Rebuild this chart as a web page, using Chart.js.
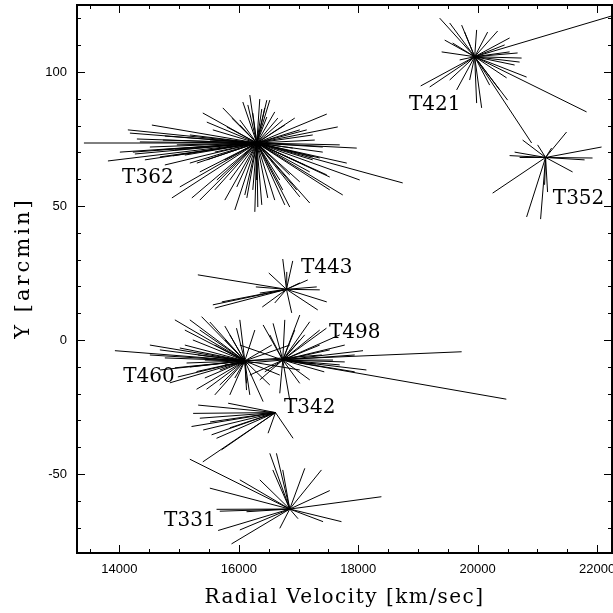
<!DOCTYPE html>
<html>
<head>
<meta charset="utf-8">
<script src="https://cdn.jsdelivr.net/npm/chart.js@4/dist/chart.umd.min.js"></script>
<style>
  html, body { margin: 0; padding: 0; background: #fff; }
  canvas { display: block; }
</style>
</head>
<body>
<canvas id="chart" width="613" height="613"></canvas>
<script>
// axis ticks
const xTicks = [14000, 16000, 18000, 20000, 22000];
const yTicks = [-50, 0, 50, 100];

// cluster centres [velocity, Y]
const t362Center = [16301, 73.5];
const t421Center = [19950, 105.7];
const t352Center = [21138, 68.1];
const t443Center = [16798, 18.9];
const t460Center = [16100, -7.8];
const t498Center = [16736, -7.5];
const t342Center = [16614, -27.1];
const t331Center = [16853, -63.1];

// member galaxies [velocity, Y]
const t362Members = [
  [13406, 73.5], [13808, 66.8], [14176, 77.2], [14544, 80.2], [14293, 75.0],
  [14259, 69.4], [14678, 68.3], [14761, 76.1], [15297, 66.0], [15012, 57.1],
  [14879, 53.0], [15213, 53.0], [15397, 84.7], [15732, 86.6], [16067, 88.8],
  [16151, 87.7], [16351, 89.9], [16385, 86.2], [16602, 85.1], [16653, 82.8],
  [16937, 82.8], [17473, 84.3], [17657, 79.5], [17975, 71.6], [18745, 58.6],
  [17741, 54.1], [17473, 61.6], [17021, 59.0], [16736, 56.0], [16485, 53.0],
  [16134, 53.0], [15849, 59.7], [17238, 67.2], [17406, 70.1], [17808, 66.0],
  [15933, 48.5], [16268, 47.8], [16385, 50.4], [16853, 49.6], [17188, 51.1],
  [14142, 78.4], [14728, 74.6], [14962, 72.8], [14226, 70.1], [14628, 70.9],
  [14895, 68.7], [15565, 78.4], [15799, 79.5], [15464, 81.3], [16017, 82.1],
  [16234, 84.7], [16469, 83.2], [16736, 82.1], [17138, 78.4], [17238, 76.5],
  [17406, 72.0], [16903, 71.6], [17238, 68.3], [17523, 60.8], [17188, 62.7],
  [16234, 56.0], [16301, 59.7], [15966, 57.1], [15632, 59.7], [15464, 67.2],
  [15180, 66.0], [16686, 59.7], [16970, 56.0], [16469, 89.5],
  [14510, 72.0], [14343, 73.9], [14929, 70.9], [15180, 76.5], [15515, 74.6],
  [15096, 69.0], [15598, 70.1], [15766, 67.2], [14008, 70.1], [14427, 67.2],
  [16017, 80.2], [16184, 91.4], [16519, 89.5], [16770, 80.2], [17021, 78.4],
  [17272, 74.6], [17690, 72.8], [17355, 67.9], [17104, 65.3], [16853, 61.6],
  [16602, 52.2], [16318, 49.6], [16100, 54.1], [15766, 52.2], [15598, 56.0],
  [15347, 52.2], [17523, 56.0], [18025, 59.7], [16770, 50.4], [17021, 53.4],
  [15347, 62.7], [14761, 65.3], [15883, 82.8], [16435, 86.6]
];
const t421Members = [
  [22711, 124.0], [21824, 85.1], [20904, 73.5], [19364, 120.1], [19531, 118.3],
  [19732, 117.5], [19782, 114.9], [19983, 115.7], [20167, 114.9], [20335, 115.3],
  [20535, 112.7], [19397, 107.5], [19581, 110.8], [20669, 107.1], [20703, 103.7],
  [20619, 102.6], [20820, 98.1], [20485, 97.8], [19046, 94.8], [19197, 94.4],
  [19531, 97.0], [19648, 93.3], [19983, 88.4], [20067, 86.6], [20368, 93.3],
  [20535, 107.5], [20736, 105.2], [20452, 110.1], [19448, 111.9], [19866, 97.0],
  [20201, 95.1], [19699, 104.5], [20502, 89.5]
];
const t352Members = [
  [20535, 68.8], [20619, 70.1], [21924, 67.9], [22075, 72.0], [21489, 77.6],
  [21590, 62.7], [20251, 54.8], [20820, 45.9], [21054, 45.1], [21171, 55.2],
  [21004, 72.8], [21238, 71.6], [20753, 74.6], [21791, 67.2], [21121, 57.9],
  [20703, 68.1]
];
const t443Members = [
  [15314, 24.3], [15598, 11.9], [15565, 13.1], [15715, 14.2], [16285, 19.8],
  [16502, 25.0], [16736, 30.2], [16903, 29.5], [16803, 25.4], [17155, 22.4],
  [17356, 18.7], [17473, 14.2], [17322, 11.2], [16886, 10.1], [16393, 12.3],
  [16602, 13.8], [17021, 21.3], [17305, 19.8], [16351, 17.5]
];
const t460Members = [
  [13925, -4.0], [14929, 7.5], [15376, 8.7], [15012, -3.0], [15230, 0.0],
  [15125, -8.6], [15292, -11.8], [14979, -13.8], [15292, -18.4], [15459, -18.4],
  [15682, -16.8], [15961, 4.4], [16129, -16.2], [16407, -23.0], [16129, -18.7],
  [14510, -5.6], [14678, -11.2], [14845, -16.0], [15096, 3.7], [15515, 6.7],
  [15766, 5.2], [14510, -1.9], [14761, -6.7], [15431, -14.2], [15849, -20.5],
  [19732, -4.4], [15849, 1.9], [16268, 3.7], [16552, -1.9], [16686, -13.1],
  [17021, -11.2], [17389, -5.6], [15314, -5.6], [15180, -10.1],
  [15347, 3.7], [15598, -1.9], [15682, -11.2], [15933, -14.2], [15431, -7.5],
  [14929, -10.4], [14678, -3.7], [15766, 0.0], [16017, 7.5], [16184, -20.5],
  [15598, -20.5], [15180, 7.5], [16519, -16.8], [16853, -1.9], [15096, -1.9]
];
const t498Members = [
  [20480, -22.1], [16574, 6.2], [17021, 9.3], [17188, 6.8], [16686, -19.9],
  [17021, -16.2], [17578, -7.5], [18080, -4.0], [18137, -11.2], [17468, 4.4],
  [16407, 5.6], [17690, -9.3], [17941, -11.9], [17355, -1.9], [17104, 1.9],
  [16184, -13.1], [16017, -1.9], [15766, -9.3], [16351, -14.9], [16853, -22.4],
  [17288, -9.0], [17774, -1.9],
  [17021, 0.0], [17523, -3.7], [17774, -8.2], [17431, -11.9], [17188, -14.9],
  [16937, 3.7], [16770, 7.5], [16519, 1.9], [16435, -11.9], [17355, 3.7],
  [17941, -5.6], [17690, 1.9]
];
const t342Members = [
  [15319, -24.3], [15235, -27.4], [15347, -29.2], [15208, -32.3], [15403, -33.6],
  [15544, -35.4], [15627, -36.7], [15711, -41.0], [15821, -23.6], [16490, -34.8],
  [16909, -36.7], [15397, -45.5], [15518, -30.6], [15849, -32.8]
];
const t331Members = [
  [15180, -44.5], [15515, -55.3], [16017, -52.2], [15627, -63.2], [16129, -64.1],
  [15654, -71.1], [16017, -70.9], [15878, -76.1], [16686, -70.3], [16519, -42.3],
  [16630, -42.3], [16569, -48.5], [17105, -47.9], [17384, -48.5], [17523, -56.2],
  [18388, -58.5], [17719, -67.8], [17411, -67.8], [16992, -66.7], [16736, -48.5],
  [16352, -52.2], [15682, -63.9]
];

// cluster names and where their labels sit
const clusterNames = ['T362', 'T421', 'T352', 'T443', 'T498', 'T460', 'T342', 'T331'];
const labelVel = [14477, 19280, 21690, 17473, 17941, 14494, 17188, 15180];
const labelY = [60.4, 87.7, 52.6, 26.9, 2.6, -13.8, -25.4, -67.5];

const clusters = [
  [t362Center, t362Members], [t421Center, t421Members], [t352Center, t352Members],
  [t443Center, t443Members], [t460Center, t460Members], [t498Center, t498Members],
  [t342Center, t342Members], [t331Center, t331Members]
];

// each galaxy joined to its cluster centre, null point breaks the line
const datasets = clusters.map(([c, members]) => ({
  data: members.flatMap(([v, yv]) => [
    {x: c[0], y: c[1]}, {x: v, y: yv}, {x: v, y: null}
  ]),
  showLine: true,
  spanGaps: false,
  borderColor: '#000',
  borderWidth: 1,
  pointRadius: 0
}));

const frame = {
  id: 'frame',
  afterDatasetsDraw(chart) {
    const {ctx, chartArea: a, scales: {x, y}} = chart;
    ctx.save();
    ctx.strokeStyle = '#000';
    ctx.lineWidth = 1;
    ctx.beginPath();
    for (let v = Math.ceil(x.min / 500) * 500; v <= x.max; v += 500) {
      const px = Math.round(x.getPixelForValue(v)) + 0.5;
      const len = v % 2000 === 0 ? 8 : 4;
      ctx.moveTo(px, a.bottom); ctx.lineTo(px, a.bottom - len);
      ctx.moveTo(px, a.top); ctx.lineTo(px, a.top + len);
    }
    for (let v = Math.ceil(y.min / 10) * 10; v <= y.max; v += 10) {
      const py = Math.round(y.getPixelForValue(v)) + 0.5;
      const len = v % 50 === 0 ? 8 : 4;
      ctx.moveTo(a.left, py); ctx.lineTo(a.left + len, py);
      ctx.moveTo(a.right, py); ctx.lineTo(a.right - len, py);
    }
    ctx.stroke();
    ctx.lineWidth = 2;
    ctx.strokeRect(a.left, a.top, a.right - a.left, a.bottom - a.top);

    ctx.fillStyle = '#000';
    ctx.font = '20px "DejaVu Serif"';
    ctx.textAlign = 'center';
    ctx.textBaseline = 'middle';
    clusterNames.forEach((name, i) => {
      ctx.fillText(name, x.getPixelForValue(labelVel[i]), y.getPixelForValue(labelY[i]));
    });

    // axis titles
    ctx.letterSpacing = '1.5px';
    ctx.fillText('Radial Velocity [km/sec]', (a.left + a.right) / 2, 598);
    ctx.translate(24, 268);
    ctx.rotate(-Math.PI / 2);
    ctx.letterSpacing = '3px';
    ctx.font = '21px "DejaVu Serif"';
    ctx.fillText('Y [arcmin]', 0, 0);
    ctx.restore();
  }
};

const tickFont = {family: '"Liberation Sans", Arial, sans-serif', size: 13};

new Chart(document.getElementById('chart'), {
  type: 'scatter',
  data: {datasets},
  options: {
    responsive: false,
    animation: false,
    devicePixelRatio: 1,
    layout: {padding: {left: 0, right: 1, top: 5, bottom: 0}},
    plugins: {legend: {display: false}, tooltip: {enabled: false}},
    scales: {
      x: {
        type: 'linear',
        min: 13290,
        max: 22250,
        grid: {display: false, drawTicks: false},
        border: {display: false},
        ticks: {color: '#000', font: tickFont, padding: 9, maxRotation: 0, callback: v => String(v)},
        afterBuildTicks: s => { s.ticks = xTicks.map(v => ({value: v})); },
        afterFit: s => { s.height = 60; s.paddingLeft = 0; s.paddingRight = 0; }
      },
      y: {
        type: 'linear',
        min: -79.5,
        max: 125,
        grid: {display: false, drawTicks: false},
        border: {display: false},
        ticks: {color: '#000', font: tickFont, padding: 10, callback: v => String(v)},
        afterBuildTicks: s => { s.ticks = yTicks.map(v => ({value: v})); },
        afterFit: s => { s.width = 77; s.paddingTop = 0; s.paddingBottom = 0; }
      }
    }
  },
  plugins: [frame]
});
</script>
</body>
</html>
